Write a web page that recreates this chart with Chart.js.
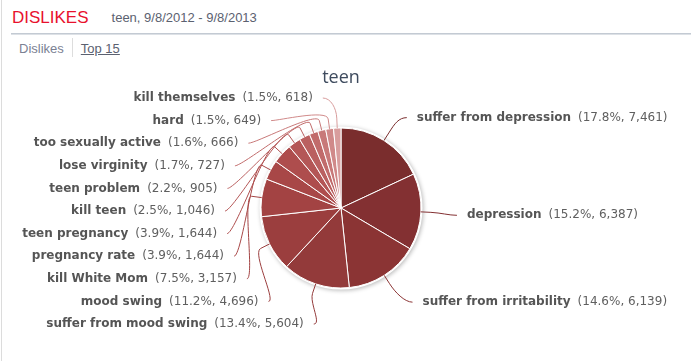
<!DOCTYPE html>
<html>
<head>
<meta charset="utf-8">
<script src="https://cdn.jsdelivr.net/npm/chart.js@4.4.0/dist/chart.umd.min.js"></script>
<style>
  html, body { margin: 0; padding: 0; background: #fff; }
  body { width: 691px; height: 361px; position: relative; overflow: hidden; font-family: "Liberation Sans", Arial, sans-serif; }
  #lborder { position: absolute; left: 1px; top: 0; width: 1px; height: 361px; background: #dcdcdc; }
  #hdr { position: absolute; left: 12px; top: 8px; white-space: nowrap; }
  #hdr .t { color: #e8112d; font-size: 17px; }
  #hdr .s { color: #5b6170; font-size: 13px; margin-left: 23px; position: relative; top: -1px; }
  #hline { position: absolute; left: 11px; top: 33px; width: 680px; height: 1px; background: #c3cad3; border-bottom: 1px solid #dde1e6; }
  #tabs { position: absolute; left: 19px; top: 40px; font-size: 13px; white-space: nowrap; }
  #tabs .a { color: #7b8193; }
  #tabs .sep { display: inline-block; width: 1px; height: 19px; background: #dddddd; vertical-align: middle; margin: 0 8px 0 8px; position: relative; top: -2px; }
  #tabs .b { color: #5b6170; text-decoration: underline; }
  #wrap { position: absolute; left: 0; top: 60px; width: 682px; height: 301px; }
</style>
</head>
<body>
<div id="lborder"></div>
<div id="hdr"><span class="t">DISLIKES</span><span class="s">teen, 9/8/2012 - 9/8/2013</span></div>
<div id="hline"></div>
<div id="tabs"><span class="a">Dislikes</span><span class="sep"></span><span class="b">Top 15</span></div>
<div id="wrap"><canvas id="c"></canvas></div>
<script>
const chartTitle = 'teen';
const categories = [
  'suffer from depression', 'depression', 'suffer from irritability', 'suffer from mood swing',
  'mood swing', 'kill White Mom', 'pregnancy rate', 'teen pregnancy', 'kill teen',
  'teen problem', 'lose virginity', 'too sexually active', 'hard', 'kill themselves'
];
const counts = [7461, 6387, 6139, 5604, 4696, 3157, 1644, 1644, 1046, 905, 727, 666, 649, 618];
const percents = ['17.8', '15.2', '14.6', '13.4', '11.2', '7.5', '3.9', '3.9', '2.5', '2.2', '1.7', '1.6', '1.5', '1.5'];
const sliceColors = [
  '#7a2d2d', '#833032', '#8b3434', '#933a3a', '#9b3e3e', '#a34343', '#a84747',
  '#ae4d4d', '#b45656', '#ba6060', '#c16b6b', '#c87979', '#d08989', '#d89d9d'
];

function fmt(n) { return n.toLocaleString('en-US'); }

const outerLabels = {
  id: 'outerLabels',
  beforeDatasetsDraw(chart) {
    const meta = chart.getDatasetMeta(0);
    if (!meta.data.length) return;
    const a = meta.data[0];
    const ctx = chart.ctx;
    ctx.save();
    ctx.shadowColor = 'rgba(0,0,0,0.28)';
    ctx.shadowBlur = 4;
    ctx.shadowOffsetX = 1;
    ctx.shadowOffsetY = 1;
    ctx.fillStyle = '#ffffff';
    ctx.beginPath();
    ctx.arc(a.x, a.y, a.outerRadius + 1.5, 0, Math.PI * 2);
    ctx.fill();
    ctx.restore();
  },
  afterDatasetsDraw(chart) {
    const meta = chart.getDatasetMeta(0);
    const ctx = chart.ctx;
    const items = [];
    const dist = 29.5, brk = 10, A = 120, B = 116, eyOff = 2, gap = 6, spacing = 22.6, maxDy = 114, tShift = 2;
    meta.data.forEach((arc, i) => {
      const mid = (arc.startAngle + arc.endAngle) / 2;
      const r = arc.outerRadius;
      const cx = arc.x, cy = arc.y;
      const cos = Math.cos(mid), sin = Math.sin(mid);
      items.push({
        i, cx, cy, r,
        left: cos < 0,
        ex: cx + cos * r, ey: cy + sin * r,
        bx: cx + cos * (r + brk), by: cy + sin * (r + brk),
        ny: cy + sin * (r + dist)
      });
    });
    ['left', 'right'].forEach(side => {
      const list = items.filter(it => (side === 'left') === it.left).sort((p, q) => p.ny - q.ny);
      for (let k = 0; k < list.length; k++) {
        list[k].y = list[k].ny;
        if (k > 0 && list[k].y < list[k - 1].y + spacing) list[k].y = list[k - 1].y + spacing;
      }
      for (let k = list.length - 1; k >= 0; k--) {
        const lim = k === list.length - 1 ? list[k].cy + maxDy : list[k + 1].y - spacing;
        if (list[k].y > lim) list[k].y = lim;
      }
    });
    items.forEach(it => {
      const dy = it.y - (it.cy + eyOff);
      const t = Math.max(0, 1 - (dy / B) * (dy / B));
      const dx = A * Math.sqrt(t);
      const ax = it.left ? it.cx - dx : it.cx + dx;
      const ty = it.y + tShift;
      ctx.save();
      ctx.strokeStyle = sliceColors[it.i];
      ctx.lineWidth = 1;
      ctx.beginPath();
      const sx = it.left ? ax + 4 : ax - 4;
      ctx.moveTo(sx, ty);
      ctx.bezierCurveTo(ax + (it.left ? 12 : -12), ty, 2 * it.bx - it.ex, 2 * it.by - it.ey, it.bx, it.by);
      ctx.lineTo(it.ex, it.ey);
      ctx.stroke();
      ctx.restore();
      const name = categories[it.i];
      const val = '(' + percents[it.i] + '%, ' + fmt(counts[it.i]) + ')';
      ctx.save();
      ctx.textBaseline = 'middle';
      const fb = 'bold 12px "DejaVu Sans", Verdana, sans-serif';
      const fn = '12px "DejaVu Sans", Verdana, sans-serif';
      ctx.font = fb; const wn = ctx.measureText(name).width;
      ctx.font = fn; const wv = ctx.measureText(val).width;
      const g = 7;
      let x0;
      if (it.left) x0 = ax - gap - wv - g - wn; else x0 = ax + gap;
      ctx.textAlign = 'left';
      ctx.font = fb; ctx.fillStyle = '#555555';
      ctx.fillText(name, x0, ty);
      ctx.font = fn; ctx.fillStyle = '#5f5f5f';
      ctx.fillText(val, x0 + wn + g, ty);
      ctx.restore();
    });
  }
};

new Chart(document.getElementById('c'), {
  type: 'pie',
  data: {
    labels: categories,
    datasets: [{
      data: counts,
      backgroundColor: sliceColors,
      borderColor: '#ffffff',
      borderWidth: 1,
      hoverOffset: 0
    }]
  },
  options: {
    responsive: true,
    maintainAspectRatio: false,
    animation: false,
    radius: 80,
    layout: { padding: { top: 0, bottom: 43.6, left: 0, right: 0 } },
    plugins: {
      legend: { display: false },
      tooltip: { enabled: false },
      title: {
        display: true,
        text: chartTitle,
        color: '#3e4b5e',
        font: { family: '"Open Sans", sans-serif', size: 18, weight: 'normal' },
        padding: { top: 7, bottom: 10 }
      }
    }
  },
  plugins: [outerLabels]
});
</script>
</body>
</html>
